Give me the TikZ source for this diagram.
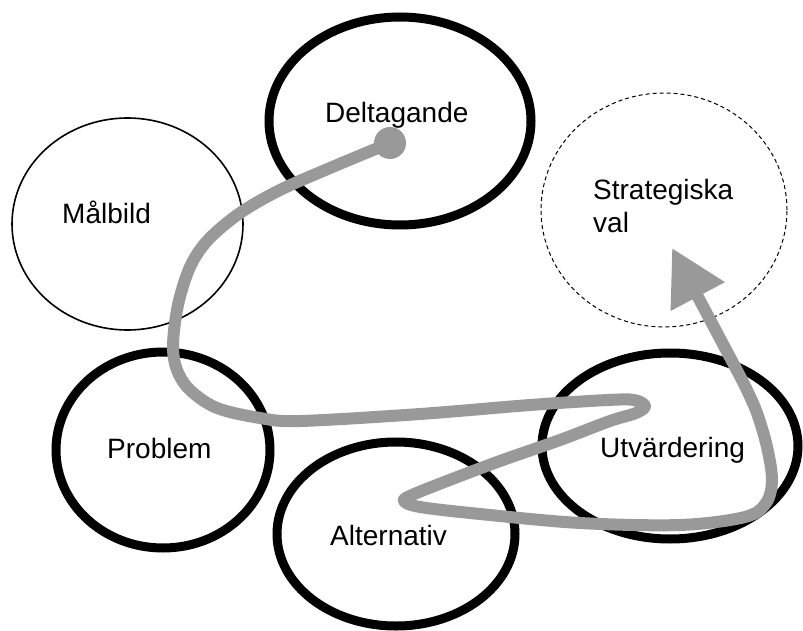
\documentclass[tikz,border=0pt]{standalone}
\usepackage{fontspec}
\setmainfont{Liberation Sans}
\usetikzlibrary{shapes.geometric,arrows.meta}
\definecolor{flowgray}{RGB}{153,153,153}
\begin{document}
\begin{tikzpicture}[x=1pt,y=-1pt,
  oval/.style={ellipse, draw=black, line width=9pt, inner sep=0pt},
  thinoval/.style={ellipse, draw=black, line width=1.6pt, inner sep=0pt},
  dashoval/.style={ellipse, draw=black, line width=1pt, dash pattern=on 4pt off 3pt, inner sep=0pt},
  lbl/.style={font=\fontsize{28}{33}\selectfont, inner sep=0pt, anchor=base west},
  flow/.style={draw=flowgray, line width=12pt, line join=round}
]
\useasboundingbox (0,0) rectangle (803,631);
% ellipses
\node[thinoval, minimum width=231pt, minimum height=212pt] (malbild) at (127.5,224) {};
\node[oval, minimum width=262pt, minimum height=208pt] (delt) at (400,121) {};
\node[dashoval, minimum width=246pt, minimum height=234pt] (strat) at (664,210) {};
\node[oval, minimum width=214pt, minimum height=196pt] (prob) at (163,450) {};
\node[oval, minimum width=256pt, minimum height=186pt] (utv) at (670,446) {};
\node[oval, minimum width=238pt, minimum height=184pt] (alt) at (396,534) {};
% labels
\node[lbl] (tdelt) at (325,123) {Deltagande};
\node[lbl] (tmal) at (62,223) {Målbild};
\node[lbl] (tstrat1) at (593,200) {Strategiska};
\node[lbl] (tstrat2) at (593,233) {val};
\node[lbl] (tprob) at (107,458) {Problem};
\node[lbl] (tutv) at (600,457) {Utvärdering};
\node[lbl] (talt) at (330,545) {Alternativ};
% flow path
\node[circle, fill=flowgray, minimum size=32pt, inner sep=0pt] (start) at (390,143) {};
\coordinate (tip) at (672,248);
\draw[flow, -{Triangle[length=55pt,width=58pt]}]
  plot[smooth, tension=0.55] coordinates {
    (start.center) (330,168) (280,190) (240,213) (208,240) (190,267)
    (178,305) (173,345) (177,370) (190,390) (217,408) (260,418)
    (300,421) (420,414) (530,405) (608,400) (634,400) (645,406)
    (636,413) (610,421) (560,440) (500,461) (447,481) (412,495)
    (404,501) (420,507) (480,514) (580,523) (680,525) (745,517)
    (766,503) (772,480) (767,447) (757,413) (745,386) (733,363)}
  -- (tip);
\end{tikzpicture}
\end{document}
